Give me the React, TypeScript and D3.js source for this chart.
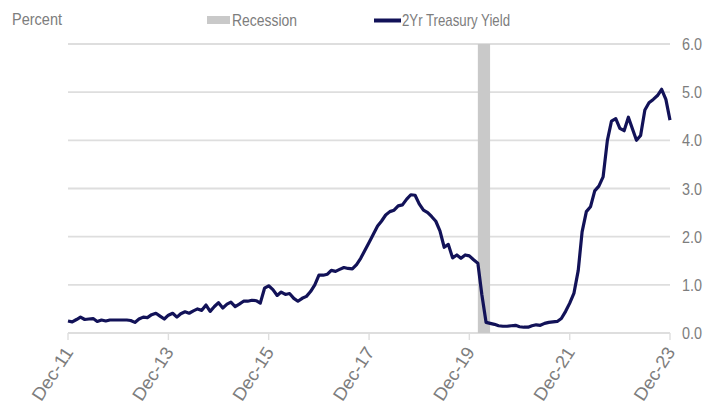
import React from "react";
import * as d3 from "d3";

const startMonth = "2011-12";
const yieldValues: number[] = [
  // 2011-12
  0.25,
  // 2012
  0.23, 0.28, 0.33, 0.28, 0.29, 0.30, 0.24, 0.27, 0.25, 0.27, 0.27, 0.27,
  // 2013
  0.27, 0.27, 0.26, 0.22, 0.29, 0.33, 0.32, 0.38, 0.41, 0.35, 0.29, 0.37,
  // 2014
  0.41, 0.33, 0.40, 0.44, 0.41, 0.46, 0.50, 0.47, 0.58, 0.45, 0.55, 0.63,
  // 2015
  0.52, 0.60, 0.64, 0.55, 0.60, 0.66, 0.66, 0.68, 0.67, 0.62, 0.93, 0.98,
  // 2016
  0.90, 0.78, 0.85, 0.80, 0.82, 0.72, 0.66, 0.72, 0.76, 0.86, 1.00, 1.20,
  // 2017
  1.20, 1.22, 1.30, 1.28, 1.32, 1.36, 1.34, 1.33, 1.42, 1.55, 1.72, 1.88,
  // 2018
  2.05, 2.22, 2.32, 2.45, 2.52, 2.55, 2.64, 2.66, 2.78, 2.87, 2.86, 2.68,
  // 2019
  2.55, 2.50, 2.42, 2.32, 2.12, 1.78, 1.84, 1.56, 1.62, 1.55, 1.62, 1.60,
  // 2020
  1.52, 1.45, 0.80, 0.22, 0.20, 0.18, 0.15, 0.14, 0.14, 0.15, 0.16, 0.13,
  // 2021
  0.12, 0.12, 0.15, 0.17, 0.16, 0.20, 0.22, 0.23, 0.24, 0.30, 0.45, 0.62,
  // 2022
  0.83, 1.30, 2.10, 2.52, 2.62, 2.95, 3.05, 3.24, 4.00, 4.40, 4.45, 4.25,
  // 2023
  4.20, 4.48, 4.25, 4.00, 4.10, 4.63, 4.78, 4.85, 4.93, 5.06, 4.85, 4.42,
];
const recession: [string, string] = ["2020-02-01", "2020-04-30"];
const xTickLabels = ["Dec-11", "Dec-13", "Dec-15", "Dec-17", "Dec-19", "Dec-21", "Dec-23"];
const xTickDates = ["2011-12-01", "2013-12-01", "2015-12-01", "2017-12-01", "2019-12-01", "2021-12-01", "2023-12-01"];
const yTicks = [0, 1, 2, 3, 4, 5, 6];
const yAxisTitle = "Percent";
const legendRecession = "Recession";
const legendSeries = "2Yr Treasury Yield";

const W = 725;
const H = 413;
const FONT = "'Liberation Sans', Arial, sans-serif";
const TEXT = "#7d7d7d";
const GRID = "#dedede";
const LINE = "#121258";

export default function App() {
  const parse = d3.timeParse("%Y-%m-%d");
  const start = d3.timeParse("%Y-%m")(startMonth)!;
  const data = yieldValues.map((v, i) => ({ date: d3.timeMonth.offset(start, i), v }));

  const x = d3
    .scaleTime()
    .domain([parse("2011-12-01")!, parse("2023-12-01")!])
    .range([68, 670]);
  const y = d3.scaleLinear().domain([0, 6]).range([333, 44]);

  const line = d3
    .line<{ date: Date; v: number }>()
    .x((d) => x(d.date))
    .y((d) => y(d.v))
    .curve(d3.curveLinear);

  const r0 = x(parse(recession[0])!);
  const r1 = x(parse(recession[1])!);

  return (
    <svg
      width={W}
      height={H}
      style={{ position: "absolute", left: 0, top: 0, background: "#fff" }}
      fontFamily={FONT}
    >
      <rect x={0} y={0} width={W} height={H} fill="#fff" />
      {/* gridlines */}
      {yTicks.map((t) => (
        <line key={t} x1={68} x2={670} y1={y(t)} y2={y(t)} stroke={GRID} strokeWidth={1.8} />
      ))}
      {/* recession bar */}
      <rect x={r0} y={y(6)} width={r1 - r0} height={y(0) - y(6)} fill="#c9c9c9" />
      {/* x ticks */}
      {xTickDates.map((d) => (
        <line key={d} x1={x(parse(d)!)} x2={x(parse(d)!)} y1={333} y2={340} stroke={GRID} strokeWidth={1.4} />
      ))}
      {/* y labels */}
      {yTicks.map((t) => (
        <text
          key={t}
          x={682}
          y={y(t) + 6}
          fontSize={16}
          fill={TEXT}
          textLength={20}
          lengthAdjust="spacingAndGlyphs"
        >
          {t.toFixed(1)}
        </text>
      ))}
      {/* x labels */}
      {xTickDates.map((d, i) => {
        const px = x(parse(d)!) + 6;
        const py = 352;
        return (
          <text
            key={d}
            x={px}
            y={py}
            fontSize={18}
            fill={TEXT}
            textAnchor="end"
            textLength={60}
            lengthAdjust="spacingAndGlyphs"
            transform={`rotate(-57 ${px} ${py})`}
          >
            {xTickLabels[i]}
          </text>
        );
      })}
      {/* series line */}
      <path d={line(data) ?? ""} fill="none" stroke={LINE} strokeWidth={3.2} strokeLinejoin="round" />
      {/* legend */}
      <text x={12} y={25} fontSize={17} fill={TEXT} textLength={50} lengthAdjust="spacingAndGlyphs">
        {yAxisTitle}
      </text>
      <rect x={207} y={16} width={23} height={8} fill="#c9c9c9" />
      <text x={232} y={26} fontSize={17} fill={TEXT} textLength={65} lengthAdjust="spacingAndGlyphs">
        {legendRecession}
      </text>
      <line x1={374} x2={401} y1={20.5} y2={20.5} stroke={LINE} strokeWidth={4} />
      <text x={402} y={26} fontSize={17} fill={TEXT} textLength={108} lengthAdjust="spacingAndGlyphs">
        {legendSeries}
      </text>
    </svg>
  );
}
